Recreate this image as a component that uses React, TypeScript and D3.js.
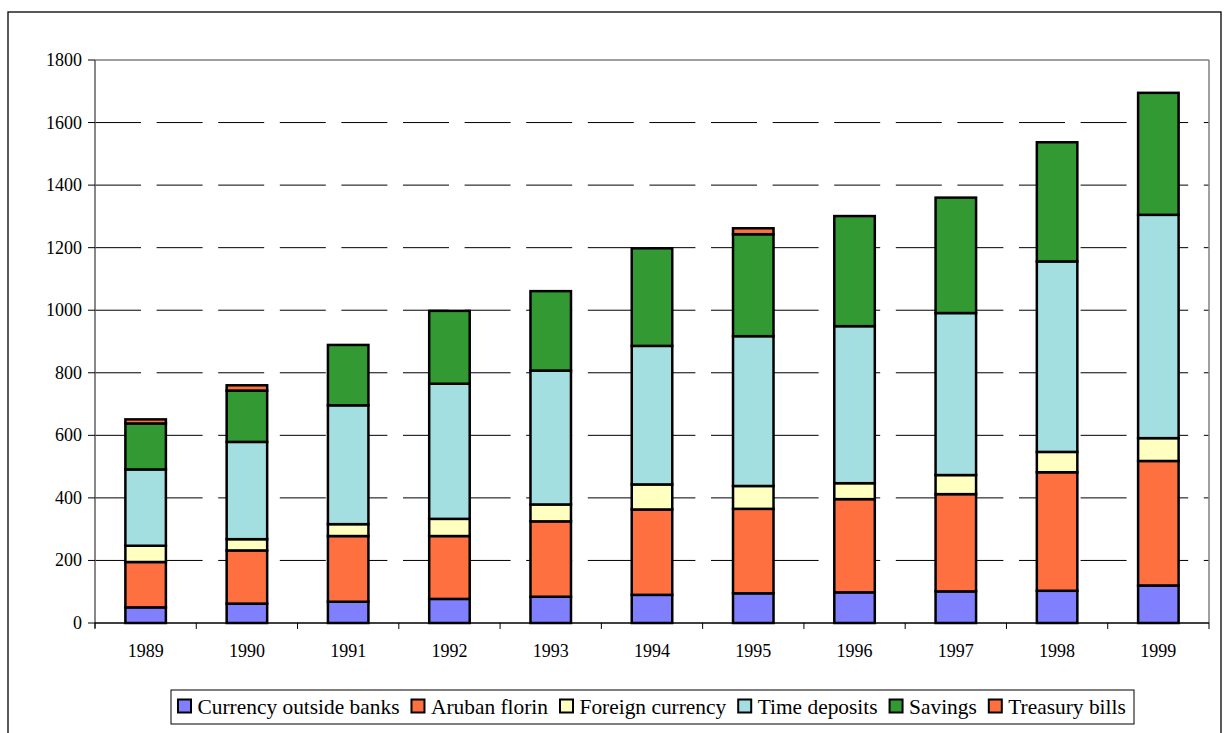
import React from "react";
import * as d3 from "d3";

const years = ["1989", "1990", "1991", "1992", "1993", "1994", "1995", "1996", "1997", "1998", "1999"];
const currencyOutsideBanks = [50, 62, 68, 77, 84, 90, 95, 98, 101, 103, 120];
const arubanFlorin = [145, 170, 210, 201, 241, 273, 270, 298, 311, 379, 398];
const foreignCurrency = [52, 36, 38, 55, 54, 80, 73, 51, 61, 65, 73];
const timeDeposits = [244, 311, 380, 432, 428, 443, 479, 502, 518, 609, 714];
const savings = [147, 164, 193, 233, 254, 312, 326, 352, 369, 381, 390];
const treasuryBills = [13, 17, 0, 0, 0, 0, 19, 0, 0, 0, 0];

const seriesNames = ["Currency outside banks", "Aruban florin", "Foreign currency", "Time deposits", "Savings", "Treasury bills"];
const seriesColors = ["#8080FF", "#FF7040", "#FFFFC0", "#A3DFE0", "#339933", "#FF7040"];
const yTicks = [0, 200, 400, 600, 800, 1000, 1200, 1400, 1600, 1800];

const FONT = '"Liberation Serif"';

function measure(text: string, size: number): number {
  const fallback = text.length * size * 0.43;
  if (typeof document === "undefined") return fallback;
  const c = document.createElement("canvas");
  const ctx = c.getContext("2d");
  if (!ctx) return fallback;
  ctx.font = `${size}px "Liberation Serif"`;
  return ctx.measureText(text).width;
}

export default function App() {
  const left = 95, right = 1209, top = 60, bottom = 623;
  const x = d3.scaleBand<string>().domain(years).range([left, right]).padding(0);
  const y = d3.scaleLinear().domain([0, 1800]).range([bottom, top]);
  const bw = x.bandwidth() * 0.4;

  const data = years.map((yr, i) => ({
    year: yr,
    s0: currencyOutsideBanks[i],
    s1: arubanFlorin[i],
    s2: foreignCurrency[i],
    s3: timeDeposits[i],
    s4: savings[i],
    s5: treasuryBills[i],
  }));
  const keys = ["s0", "s1", "s2", "s3", "s4", "s5"];
  const stacked = d3.stack<any>().keys(keys)(data);

  const legendSize = 21.4;
  let cx = 178;
  const legendItems = seriesNames.map((name, i) => {
    const item = { name, color: seriesColors[i], sx: cx, tx: cx + 19.5 };
    cx = cx + 19.5 + measure(name, legendSize) + 12;
    return item;
  });

  const edges = years.map((yr) => x(yr) as number).concat([right]);

  return (
    <svg width={1226} height={733} style={{ position: "absolute", left: 0, top: 0, display: "block" }}>
      <rect x={8} y={12} width={1213} height={740} fill="#fff" stroke="#000" strokeWidth={1.3} />

      {yTicks.filter((t) => t > 0 && t < 1800).map((t) => (
        <line key={"g" + t} x1={left} x2={right} y1={y(t)} y2={y(t)} stroke="#000" strokeWidth={1} strokeDasharray="46,15.6" />
      ))}
      <line x1={left} x2={right} y1={y(1800)} y2={y(1800)} stroke="#808080" strokeWidth={1.5} />
      <line x1={right} x2={right} y1={y(1800)} y2={bottom} stroke="#808080" strokeWidth={1.5} />

      {stacked.map((layer, li) => (
        <g key={"l" + li}>
          {layer.filter((d) => d[1] - d[0] > 0).map((d: any) => (
            <rect
              key={d.data.year}
              x={(x(d.data.year) as number) + x.bandwidth() / 2 - bw / 2}
              y={y(d[1])}
              width={bw}
              height={y(d[0]) - y(d[1])}
              fill={seriesColors[li]}
              stroke="#000"
              strokeWidth={2.5}
            />
          ))}
        </g>
      ))}

      <line x1={left} x2={left} y1={top} y2={bottom + 5} stroke="#606060" strokeWidth={1.5} />
      {yTicks.map((t) => (
        <g key={"y" + t}>
          <line x1={left - 7} x2={left} y1={y(t)} y2={y(t)} stroke="#000" strokeWidth={1} />
          <text x={82} y={y(t) + 6} textAnchor="end" fontSize={18} fill="#000" style={{ fontFamily: FONT }}>
            {t}
          </text>
        </g>
      ))}

      <line x1={left} x2={right} y1={bottom} y2={bottom} stroke="#000" strokeWidth={1.5} />
      {edges.map((ex, i) => (
        <line key={"t" + i} x1={ex} x2={ex} y1={bottom} y2={bottom + 6} stroke="#000" strokeWidth={1} />
      ))}
      {years.map((yr) => (
        <text key={"x" + yr} x={(x(yr) as number) + x.bandwidth() / 2} y={657} textAnchor="middle" fontSize={18} fill="#000" style={{ fontFamily: FONT }}>
          {yr}
        </text>
      ))}

      <rect x={171} y={690} width={963} height={34} fill="#fff" stroke="#000" strokeWidth={1} />
      {legendItems.map((it) => (
        <g key={it.name}>
          <rect x={it.sx} y={699.5} width={13} height={13} fill={it.color} stroke="#000" strokeWidth={2} />
          <text x={it.tx} y={714} fontSize={legendSize} fill="#000" style={{ fontFamily: FONT }}>
            {it.name}
          </text>
        </g>
      ))}
    </svg>
  );
}
